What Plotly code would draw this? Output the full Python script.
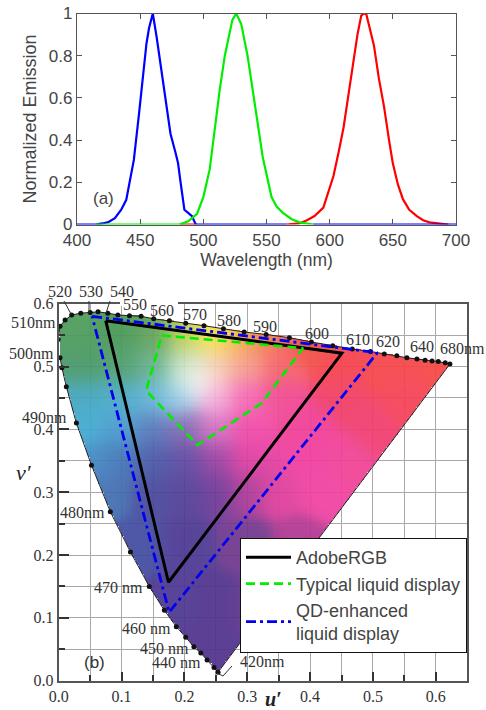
import numpy as np
import plotly.graph_objects as go

W, H = 486, 710

# ---- panel (a) data
blue_nm = [400, 415, 420, 425, 430, 435, 439, 445, 449, 452, 455, 457, 460, 463, 468, 474, 478, 480, 482, 485, 488, 491, 494]
blue_em = [0, 0, .005, .012, .03, .07, .117, .306, .52, .685, .858, .93, 1, .89, .685, .43, .34, .29, .2, .07, .055, .04, 0]
green_nm = [415, 481, 488, 495, 500, 505, 509, 513, 517, 520, 523, 526, 530, 535, 542, 547, 554, 558, 563, 570, 576, 587]
green_em = [0, 0, .015, .05, .13, .26, .45, .64, .8, .89, .97, 1, .95, .8, .53, .32, .13, .085, .055, .025, .01, 0]
red_nm = [566, 576, 582, 588, 595, 599, 603, 607, 611, 615, 619, 622, 625, 627, 629, 632, 635, 639, 643, 647, 650, 654, 658, 663, 669, 674, 679, 694]
red_em = [0, .005, .02, .04, .08, .15, .23, .34, .46, .62, .78, .9, .99, 1, .997, .93, .85, .69, .56, .4, .29, .19, .12, .07, .04, .02, .01, 0]
red_stub_nm = [482, 494]
red_stub_em = [0, 0]
base_nm = [494, 566, None, 587, 700]
base_em = [0, 0, None, 0, 0]

# ---- panel (b) data
locus_u = [-.001, .002, .01, .0205, .035, .05, .0625, .078, .094, .1125, .131, .151, .176, .202, .231, .262, .295, .33, .367, .402, .436, .467, .496, .518, .538, .554, .57, .583, .594, .604, .615, .6225]
locus_v = [.543, .564, .574, .582, .585, .586, .587, .585, .582, .581, .58, .576, .573, .569, .565, .56, .555, .551, .546, .539, .533, .528, .524, .52, .517, .514, .512, .51, .509, .508, .506, .504]
side_u = [.002, .005, .012, .028, .052, .082, .114, .144, .168, .187, .202, .215, .226, .236, .247, .2535]
side_v = [.514, .498, .468, .41, .343, .269, .205, .15, .112, .086, .069, .054, .044, .033, .021, .0135]

adobe_u = [.0747, .4506, .1746, .0747]
adobe_v = [.573, .5213, .1567, .573]
typical_u = [.164, .3886, .323, .2204, .139, .164]
typical_v = [.5495, .5293, .4417, .375, .4618, .5495]
qd_u = [.053, .507, .1756, .053]
qd_v = [.58, .522, .1089, .58]

# colour samples of the chromaticity backdrop, row by row (u', v', (R, G, B))
tints = [
    (.03, .55, (75, 155, 90)), (.10, .55, (70, 150, 85)), (.15, .55, (95, 160, 85)), (.20, .55, (185, 205, 85)),
    (.24, .55, (250, 235, 75)), (.28, .55, (245, 190, 70)), (.32, .55, (240, 125, 65)), (.40, .54, (240, 80, 65)),
    (.03, .50, (70, 150, 100)), (.10, .50, (75, 155, 105)), (.15, .50, (100, 175, 140)), (.20, .50, (185, 220, 185)),
    (.25, .50, (245, 200, 170)), (.30, .50, (245, 155, 140)), (.35, .50, (245, 95, 100)),
    (.45, .50, (245, 65, 75)), (.60, .50, (245, 70, 70)), (.52, .50, (245, 68, 72)),
    (.218, .479, (255, 255, 255)),
    (.03, .45, (65, 165, 190)), (.10, .45, (70, 170, 200)), (.15, .45, (95, 180, 215)), (.19, .45, (150, 205, 230)),
    (.25, .45, (245, 170, 215)), (.30, .45, (245, 100, 180)), (.35, .45, (240, 70, 145)), (.45, .45, (240, 60, 100)),
    (.55, .45, (245, 65, 85)),
    (.04, .40, (65, 170, 210)), (.10, .40, (70, 155, 205)), (.15, .40, (85, 115, 185)), (.20, .40, (130, 100, 175)),
    (.25, .40, (215, 110, 195)), (.30, .40, (240, 70, 165)), (.40, .40, (240, 60, 150)), (.50, .40, (240, 60, 110)),
    (.06, .35, (65, 135, 195)), (.10, .35, (65, 110, 180)), (.15, .35, (70, 85, 165)), (.20, .35, (90, 70, 160)),
    (.25, .35, (150, 60, 160)), (.30, .35, (225, 60, 160)), (.40, .35, (240, 60, 160)), (.46, .35, (240, 65, 150)),
    (.08, .30, (65, 110, 175)), (.15, .30, (70, 70, 155)), (.20, .30, (80, 60, 150)), (.25, .30, (105, 55, 150)),
    (.30, .30, (170, 55, 150)), (.35, .30, (225, 60, 155)), (.42, .30, (240, 65, 160)),
    (.13, .22, (65, 75, 160)), (.20, .22, (75, 55, 145)), (.30, .22, (110, 55, 140)), (.38, .22, (175, 55, 145)),
    (.18, .12, (75, 55, 145)), (.25, .12, (80, 50, 140)), (.32, .12, (100, 50, 140)),
    (.24, .05, (80, 50, 140)),
]
tint_u = [t[0] for t in tints]
tint_v = [t[1] for t in tints]
tint_rgb = [t[2] for t in tints]

STEP = .002
grid_u = np.arange(-.002, .63, STEP)
grid_v = np.arange(.006, .592, STEP)
uu, vv = np.meshgrid(grid_u, grid_v)
poly_u = np.array(side_u[::-1] + locus_u[1:])
poly_v = np.array(side_v[::-1] + locus_v[1:])
inside = np.zeros(uu.shape, bool)
j = len(poly_u) - 1
for i in range(len(poly_u)):
    cond = (poly_v[i] > vv) != (poly_v[j] > vv)
    xint = (poly_u[j] - poly_u[i]) * (vv - poly_v[i]) / (poly_v[j] - poly_v[i] + 1e-12) + poly_u[i]
    inside ^= cond & (uu < xint)
    j = i
tu, tv = np.array(tint_u), np.array(tint_v)
d = (uu[..., None] - tu) ** 2 + (vv[..., None] - tv) ** 2
wt = np.exp(-d / (2 * .022 ** 2)) + 1e-14
wt /= wt.sum(axis=-1, keepdims=True)
rgba = np.zeros(uu.shape + (4,))
rgba[..., :3] = wt @ np.array(tint_rgb, float)
rgba[..., 3] = np.where(inside, .93, 0)


def px(x, y):
    return x / W, 1 - y / H


fig = go.Figure()
A = dict(xaxis="x", yaxis="y", mode="lines", showlegend=False, hoverinfo="skip")
LW = 2.2
fig.add_trace(go.Scatter(x=blue_nm, y=blue_em, line=dict(color="#0000ff", width=LW), **A))
fig.add_trace(go.Scatter(x=red_nm, y=red_em, line=dict(color="#ff0000", width=LW), **A))
fig.add_trace(go.Scatter(x=red_stub_nm, y=red_stub_em, line=dict(color="#ff0000", width=LW), **A))
fig.add_trace(go.Scatter(x=green_nm, y=green_em, line=dict(color="#00ee00", width=LW), **A))
fig.add_trace(go.Scatter(x=base_nm, y=base_em, line=dict(color="#0000ff", width=LW), **A))

fig.add_trace(go.Image(z=rgba, colormodel="rgba", x0=float(grid_u[0]), dx=STEP, y0=float(grid_v[0]), dy=STEP,
                       xaxis="x2", yaxis="y2", hoverinfo="skip"))
B = dict(xaxis="x2", yaxis="y2", hoverinfo="skip")
fig.add_trace(go.Scatter(x=locus_u, y=locus_v, mode="lines+markers", showlegend=False,
                         line=dict(color="#222", width=1), marker=dict(color="#111", size=5), **B))
fig.add_trace(go.Scatter(x=side_u, y=side_v, mode="lines+markers", showlegend=False,
                         line=dict(color="#222", width=1), marker=dict(color="#111", size=5), **B))
fig.add_trace(go.Scatter(x=[side_u[-1], locus_u[-1]], y=[side_v[-1], locus_v[-1]], mode="lines", showlegend=False,
                         line=dict(color="#222", width=1), **B))
fig.add_trace(go.Scatter(x=adobe_u, y=adobe_v, mode="lines", name="AdobeRGB",
                         line=dict(color="#000", width=3), **B))
fig.add_trace(go.Scatter(x=typical_u, y=typical_v, mode="lines", name="Typical liquid display",
                         line=dict(color="#00ee00", width=2.6, dash="9px,5px"), **B))
fig.add_trace(go.Scatter(x=qd_u, y=qd_v, mode="lines", name="QD-enhanced<br>liquid display",
                         line=dict(color="#0000ee", width=2.8, dash="10px,4px,3px,4px"), **B))

GR = "#555"
TXT = "#444"
SF = "Liberation Sans, Arial, sans-serif"
SR = "Liberation Serif, Times New Roman, serif"

fig.update_layout(
    width=W, height=H, margin=dict(l=0, r=0, t=0, b=0), autosize=False,
    paper_bgcolor="white", plot_bgcolor="white", font=dict(family=SF, color=TXT, size=17),
    xaxis=dict(domain=[77 / W, 456 / W], anchor="y", range=[400, 700], tickvals=list(range(400, 701, 50)),
               ticks="inside", ticklen=5, tickcolor=GR, showline=True, linecolor=GR, linewidth=1.3, mirror="allticks",
               showgrid=False, zeroline=False, tickfont=dict(size=17, color=TXT), automargin=False,
               title=dict(text="Wavelength (nm)", font=dict(size=17.5, color=TXT), standoff=1)),
    yaxis=dict(domain=[1 - 224.5 / H, 1 - 13.5 / H], anchor="x", range=[0, 1], tickvals=[0, .2, .4, .6, .8, 1],
               ticktext=["0", "0.2", "0.4", "0.6", "0.8", "1"],
               ticks="inside", ticklen=5, tickcolor=GR, showline=True, linecolor=GR, linewidth=1.3, mirror="allticks",
               showgrid=False, zeroline=False, tickfont=dict(size=17, color=TXT), automargin=False,
               title=dict(text="Normalized Emission", font=dict(size=18, color=TXT), standoff=7)),
    xaxis2=dict(domain=[57 / W, 469 / W], anchor="y2", range=[0, .65], tickvals=[0, .1, .2, .3, .4, .5, .6],
                ticktext=["0.0", "0.1", "0.2", "0.3", "0.4", "0.5", "0.6"],
                ticks="inside", ticklen=9, tickcolor="#333", tickwidth=1.5, automargin=False,
                minor=dict(dtick=.05, ticks="inside", ticklen=6, tickcolor="#333", showgrid=True, gridcolor="#a8a8a8"),
                showline=True, linecolor="#555", linewidth=2, mirror=True,
                showgrid=True, gridcolor="#a8a8a8", zeroline=False,
                tickfont=dict(family=SR, size=16, color="#333")),
    yaxis2=dict(domain=[1 - 680.7 / H, 1 - 303.7 / H], anchor="x2", range=[0, .6],
                tickvals=[0, .1, .2, .3, .4, .5, .6],
                ticktext=["0.0", "0.1", "0.2", "0.3", "0.4", "0.5", "0.6"],
                ticks="inside", ticklen=10, tickcolor="#333", tickwidth=1.5, automargin=False,
                minor=dict(dtick=.05, ticks="inside", ticklen=6, tickcolor="#333", showgrid=True, gridcolor="#a8a8a8"),
                showline=True, linecolor="#555", linewidth=2, mirror=True,
                showgrid=True, gridcolor="#a8a8a8", zeroline=False,
                tickfont=dict(family=SR, size=16, color="#333")),
    legend=dict(x=240 / W, y=1 - 538 / H, xanchor="left", yanchor="top", bgcolor="white", bordercolor="#111",
                borderwidth=1, font=dict(family=SF, size=18, color=TXT), itemwidth=45, tracegroupgap=0, traceorder="normal"),
)

# wavelength labels, positioned on the page
labels = [("520", 60, 291), ("530", 91, 291), ("540", 122, 291), ("550", 135, 304), ("560", 162, 310), ("570", 195, 314),
          ("580", 229, 320), ("590", 265, 326), ("600", 317, 333), ("610", 358, 339), ("620", 388, 341), ("640", 422, 346),
          ("680nm", 462, 348), ("510nm", 33, 322), ("500nm", 31, 353), ("490nm", 44, 417),
          ("480nm", 82, 512), ("470 nm", 118, 587), ("460 nm", 146, 628), ("450 nm", 164, 648), ("440 nm", 176, 662),
          ("420nm", 262, 661)]
ann = []
for t, x, y in labels:
    xp, yp = px(x, y)
    ann.append(dict(text=t, x=xp, y=yp, xref="paper", yref="paper", showarrow=False,
                    font=dict(family=SR, size=16, color="#333"), xanchor="center", yanchor="middle"))
for t, x, y, f in [("(a)", 103, 198, dict(family=SF, size=17, color=TXT)), ("(b)", 94, 662, dict(family=SF, size=17, color="#333")),
                   ("<i>v′</i>", 24, 472, dict(family=SR, size=22, color="#222")),
                   ("<b><i>u′</i></b>", 273, 699, dict(family=SR, size=20, color="#222"))]:
    xp, yp = px(x, y)
    ann.append(dict(text=t, x=xp, y=yp, xref="paper", yref="paper", showarrow=False, font=f,
                    xanchor="center", yanchor="middle"))
fig.update_layout(annotations=ann)

# leader lines for the wavelength labels and the gap in the top frame, drawn on the page
leaders = [((64, 301), (71, 314)), ((89, 301), (89, 313)), ((110, 301), (106, 313)), ((223, 676), (232, 666)), ((223, 676), (217, 673))]
shapes = [dict(type="line", xref="paper", yref="paper", x0=px(*a)[0], y0=px(*a)[1], x1=px(*b)[0], y1=px(*b)[1],
               line=dict(color="#333", width=1)) for a, b in leaders]
shapes.append(dict(type="rect", xref="paper", yref="paper", x0=px(120, 0)[0], x1=px(178, 0)[0], y0=px(0, 301)[1], y1=px(0, 306)[1],
                   fillcolor="white", line=dict(width=0)))
fig.update_layout(shapes=shapes)

fig.write_html("out.html", config=dict(displayModeBar=False),
               post_script="document.body.style.margin='0';document.documentElement.style.overflow='hidden';")
